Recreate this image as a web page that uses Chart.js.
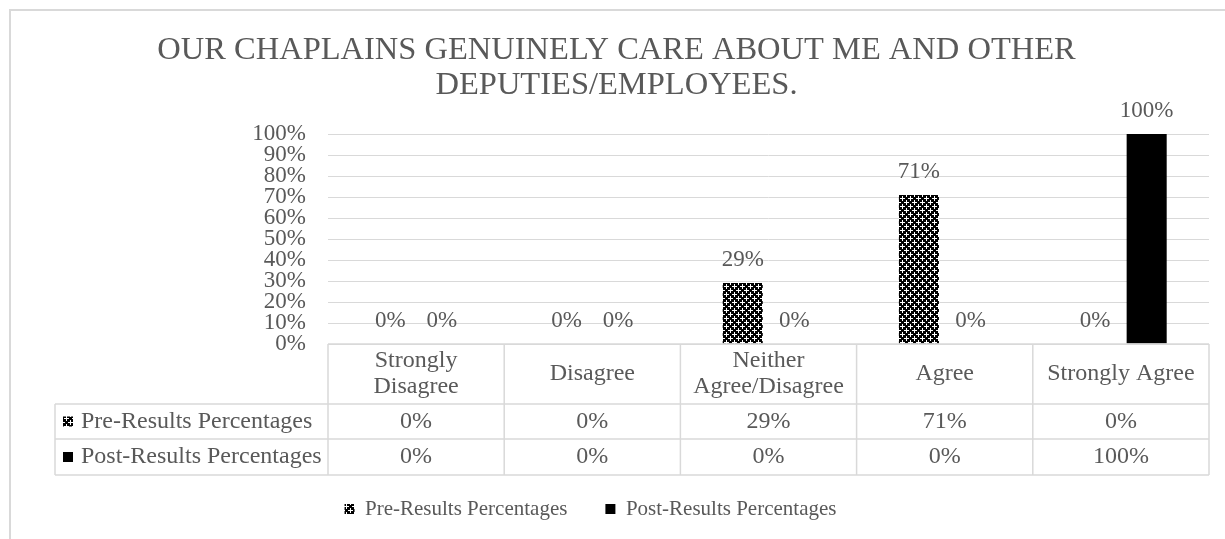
<!DOCTYPE html>
<html>
<head>
<meta charset="utf-8">
<script src="https://cdn.jsdelivr.net/npm/chart.js@4/dist/chart.umd.min.js"></script>
<style>
  html, body { margin: 0; padding: 0; background: #fff; }
</style>
</head>
<body>
<canvas id="chart" width="1225" height="539"></canvas>
<script>
const categories = [['Strongly', 'Disagree'], 'Disagree', ['Neither', 'Agree/Disagree'], 'Agree', 'Strongly Agree'];
const preResults = [0, 0, 29, 71, 0];
const postResults = [0, 0, 0, 0, 100];
const seriesNames = ['Pre-Results Percentages', 'Post-Results Percentages'];
const titleLines = ['OUR CHAPLAINS GENUINELY CARE ABOUT ME AND OTHER', 'DEPUTIES/EMPLOYEES.'];

const SERIF = "'Liberation Serif', 'Times New Roman', serif";
const TEXT = '#595959';
const LINE = '#d9d9d9';

// 8x8 tile: black lattice with white diamonds
function makeDiamondPattern() {
    const tile = document.createElement('canvas');
    tile.width = 8;
    tile.height = 8;
    const t = tile.getContext('2d');
    t.fillStyle = '#000';
    t.fillRect(0, 0, 8, 8);
    t.fillStyle = '#fff';
    for (let y = 0; y < 8; y++) {
        for (let x = 0; x < 8; x++) {
            const d1 = Math.abs(x - 2) + Math.abs(y - 2);
            const dx = Math.min(Math.abs(x - 6), 8 - Math.abs(x - 6));
            const dy = Math.min(Math.abs(y - 6), 8 - Math.abs(y - 6));
            if (d1 <= 1 || dx + dy <= 1 || (d1 === 2 && (x === 2 || y === 2)) || (dx + dy === 2 && (dx === 0 || dy === 0))) {
                t.fillRect(x, y, 1, 1);
            }
        }
    }
    return document.createElement('canvas').getContext('2d').createPattern(tile, 'repeat');
}
const prePattern = makeDiamondPattern();
const seriesFills = [prePattern, '#000'];

// outer chart frame
const framePlugin = {
    id: 'frame',
    beforeDraw(chart) {
        const ctx = chart.ctx;
        ctx.save();
        ctx.fillStyle = '#fff';
        ctx.fillRect(0, 0, chart.width, chart.height);
        ctx.strokeStyle = LINE;
        ctx.lineWidth = 2;
        ctx.strokeRect(10, 10, chart.width + 20, chart.height + 20);
        ctx.restore();
    },
    // nudge title and legend so they centre on the canvas rather than the padded box
    afterLayout(chart) {
        if (chart.titleBlock) {
            chart.titleBlock.left += 12;
            chart.titleBlock.right += 12;
        }
        if (chart.legend) {
            chart.legend.left -= 14;
            chart.legend.right -= 14;
        }
    }
};

// value labels above each bar
const barLabelPlugin = {
    id: 'barLabels',
    afterDatasetsDraw(chart) {
        const ctx = chart.ctx;
        ctx.save();
        ctx.font = '23px ' + SERIF;
        ctx.fillStyle = TEXT;
        ctx.textAlign = 'center';
        ctx.textBaseline = 'alphabetic';
        chart.data.datasets.forEach((ds, di) => {
            chart.getDatasetMeta(di).data.forEach((bar, i) => {
                ctx.fillText(ds.data[i] + '%', bar.x, bar.y - 17);
            });
        });
        ctx.restore();
    }
};

// data table under the plot, aligned on the category scale
const dataTablePlugin = {
    id: 'dataTable',
    afterDraw(chart) {
        const ctx = chart.ctx;
        const x = chart.scales.x;
        const area = chart.chartArea;
        const n = categories.length;
        const cw = (x.right - x.left) / n;
        const top = area.bottom;
        const rows = [top, top + 60, top + 95, top + 131];
        const labelLeft = 55;

        ctx.save();
        ctx.strokeStyle = LINE;
        ctx.lineWidth = 1.5;
        ctx.beginPath();
        ctx.moveTo(x.left, rows[0]);
        ctx.lineTo(x.right, rows[0]);
        for (let r = 1; r < rows.length; r++) {
            ctx.moveTo(labelLeft, rows[r]);
            ctx.lineTo(x.right, rows[r]);
        }
        ctx.moveTo(labelLeft, rows[1]);
        ctx.lineTo(labelLeft, rows[3]);
        for (let i = 0; i <= n; i++) {
            const cx = x.left + i * cw;
            ctx.moveTo(cx, rows[0]);
            ctx.lineTo(cx, rows[3]);
        }
        ctx.stroke();

        ctx.fillStyle = TEXT;
        ctx.font = '24px ' + SERIF;
        ctx.textAlign = 'center';
        ctx.textBaseline = 'middle';
        categories.forEach((cat, i) => {
            const cx = x.getPixelForValue(i);
            const lines = Array.isArray(cat) ? cat : [cat];
            const mid = (rows[0] + rows[1]) / 2;
            lines.forEach((ln, k) => {
                ctx.fillText(ln, cx, mid + (k - (lines.length - 1) / 2) * 26);
            });
        });

        const series = [preResults, postResults];
        series.forEach((vals, s) => {
            const mid = (rows[s + 1] + rows[s + 2]) / 2;
            ctx.textAlign = 'center';
            ctx.fillStyle = TEXT;
            vals.forEach((v, i) => {
                ctx.fillText(v + '%', x.getPixelForValue(i), mid);
            });
            ctx.fillStyle = seriesFills[s];
            ctx.fillRect(63, mid - 5, 10, 10);
            ctx.fillStyle = TEXT;
            ctx.textAlign = 'left';
            ctx.fillText(seriesNames[s], 81, mid);
        });
        ctx.restore();
    }
};

new Chart(document.getElementById('chart'), {
    type: 'bar',
    data: {
        labels: categories,
        datasets: [
            { label: seriesNames[0], data: preResults, backgroundColor: prePattern, borderWidth: 0, barPercentage: 0.777, categoryPercentage: 0.585 },
            { label: seriesNames[1], data: postResults, backgroundColor: '#000', borderWidth: 0, barPercentage: 0.777, categoryPercentage: 0.585 }
        ]
    },
    options: {
        responsive: false,
        devicePixelRatio: 1,
        animation: false,
        layout: { padding: { left: 0, right: 16, top: 0, bottom: 9.5 } },
        scales: {
            x: {
                ticks: { display: false },
                grid: { display: false },
                border: { display: false },
                afterFit: s => { s.height = 116.5; }
            },
            y: {
                min: 0,
                max: 100,
                ticks: {
                    stepSize: 10,
                    autoSkip: false,
                    padding: 22,
                    color: TEXT,
                    font: { family: SERIF, size: 23 },
                    callback: v => v + '%'
                },
                grid: { color: LINE, drawTicks: false },
                border: { display: false },
                afterFit: s => { s.width = 328; }
            }
        },
        plugins: {
            title: {
                display: true,
                text: titleLines,
                color: TEXT,
                font: { family: SERIF, size: 32.5, weight: 'normal', lineHeight: 1.077 },
                padding: { top: 33, bottom: 31 }
            },
            legend: {
                position: 'bottom',
                labels: {
                    color: TEXT,
                    font: { family: SERIF, size: 21 },
                    boxWidth: 10,
                    boxHeight: 10,
                    padding: 38
                }
            },
            tooltip: { enabled: false }
        }
    },
    plugins: [framePlugin, barLabelPlugin, dataTablePlugin]
});
</script>
</body>
</html>
